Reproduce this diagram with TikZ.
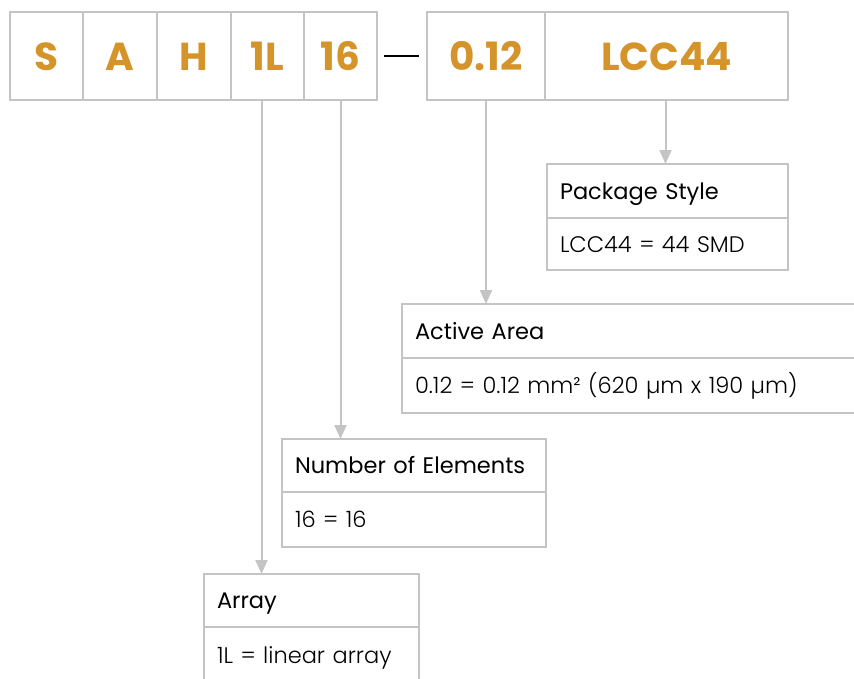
\documentclass[tikz,border=0pt]{standalone}
\usepackage{fontspec}
\setmainfont{Poppins}
\newfontfamily\lightfont{Poppins Light}
\usetikzlibrary{positioning,arrows.meta}
\definecolor{codeorange}{HTML}{D4942A}
\definecolor{framegray}{HTML}{C4C4C4}

\begin{document}
\begin{tikzpicture}
		[x=1pt,y=-1pt,
		codebox/.style={draw=framegray,line width=2pt,outer sep=0pt,inner sep=0pt,
minimum height=88pt,minimum width=#1,anchor=north west,text=codeorange,
text height=28pt,text depth=0pt,font=\fontsize{39}{39}\selectfont\bfseries},
		headbox/.style={draw=framegray,line width=2pt,outer sep=0pt,inner xsep=13pt,
inner ysep=0pt,minimum height=54pt,text width=#1,align=left,anchor=north west,
text height=16pt,text depth=0pt,font=\fontsize{22.5}{24}\selectfont},
		valbox/.style={headbox=#1,font=\lightfont\fontsize{22.5}{24}\selectfont},
		connstyle/.style={draw=framegray,line width=2pt,
-{Triangle[width=12pt,length=14pt]}}]
		\useasboundingbox (0,0) rectangle (854,678);
		\clip (0,0) rectangle (854,678);
		% code row
		\node at (10,12) (codeS) [codebox=73pt] {S};
		\node (codeA) [codebox=74pt,right=0pt of codeS] {A};
		\node (codeH) [codebox=74pt,right=0pt of codeA] {H};
		\node (codeoneL) [codebox=73pt,right=0pt of codeH] {1L};
		\node (codesixteen) [codebox=73pt,right=0pt of codeoneL] {16};
		\node at (427,12) (codearea) [codebox=118pt] {0.12};
		\node (codepkg) [codebox=243pt,right=0pt of codearea] {LCC44};
		\draw[line width=2pt] (384,56) -- (419,56);
		% legend boxes
		\node at (547,164) (pkghead) [headbox=215pt] {Package Style};
		\node (pkgval) [valbox=215pt,below=0pt of pkghead,minimum height=52pt] {LCC44 = 44 SMD};
		\node at (402,304) (areahead) [headbox=444pt] {Active Area};
		\node (areaval) [valbox=444pt,below=0pt of areahead,minimum height=55pt] {0.12 = 0.12 mm² (620 µm x 190 µm)};
		\node at (282,439) (numhead) [headbox=238pt,minimum height=53pt] {Number of Elements};
		\node (numval) [valbox=238pt,below=0pt of numhead,minimum height=55pt] {16 = 16};
		\node at (204,574) (arrhead) [headbox=189pt,minimum height=53pt] {Array};
		\node (arrval) [valbox=189pt,below=0pt of arrhead,minimum height=56pt] {1L = linear array};
		% connectors
		\draw[connstyle] ([xshift=-1pt]codepkg.south) -- ([xshift=-1pt]codepkg.south |- pkghead.north);
		\draw[connstyle] (codearea.south) -- (codearea.south |- areahead.north);
		\draw[connstyle] (codesixteen.south) -- (codesixteen.south |- numhead.north);
		\draw[connstyle] ([xshift=-6pt]codeoneL.south) -- ([xshift=-6pt]codeoneL.south |- arrhead.north);
	\end{tikzpicture}
\end{document}
